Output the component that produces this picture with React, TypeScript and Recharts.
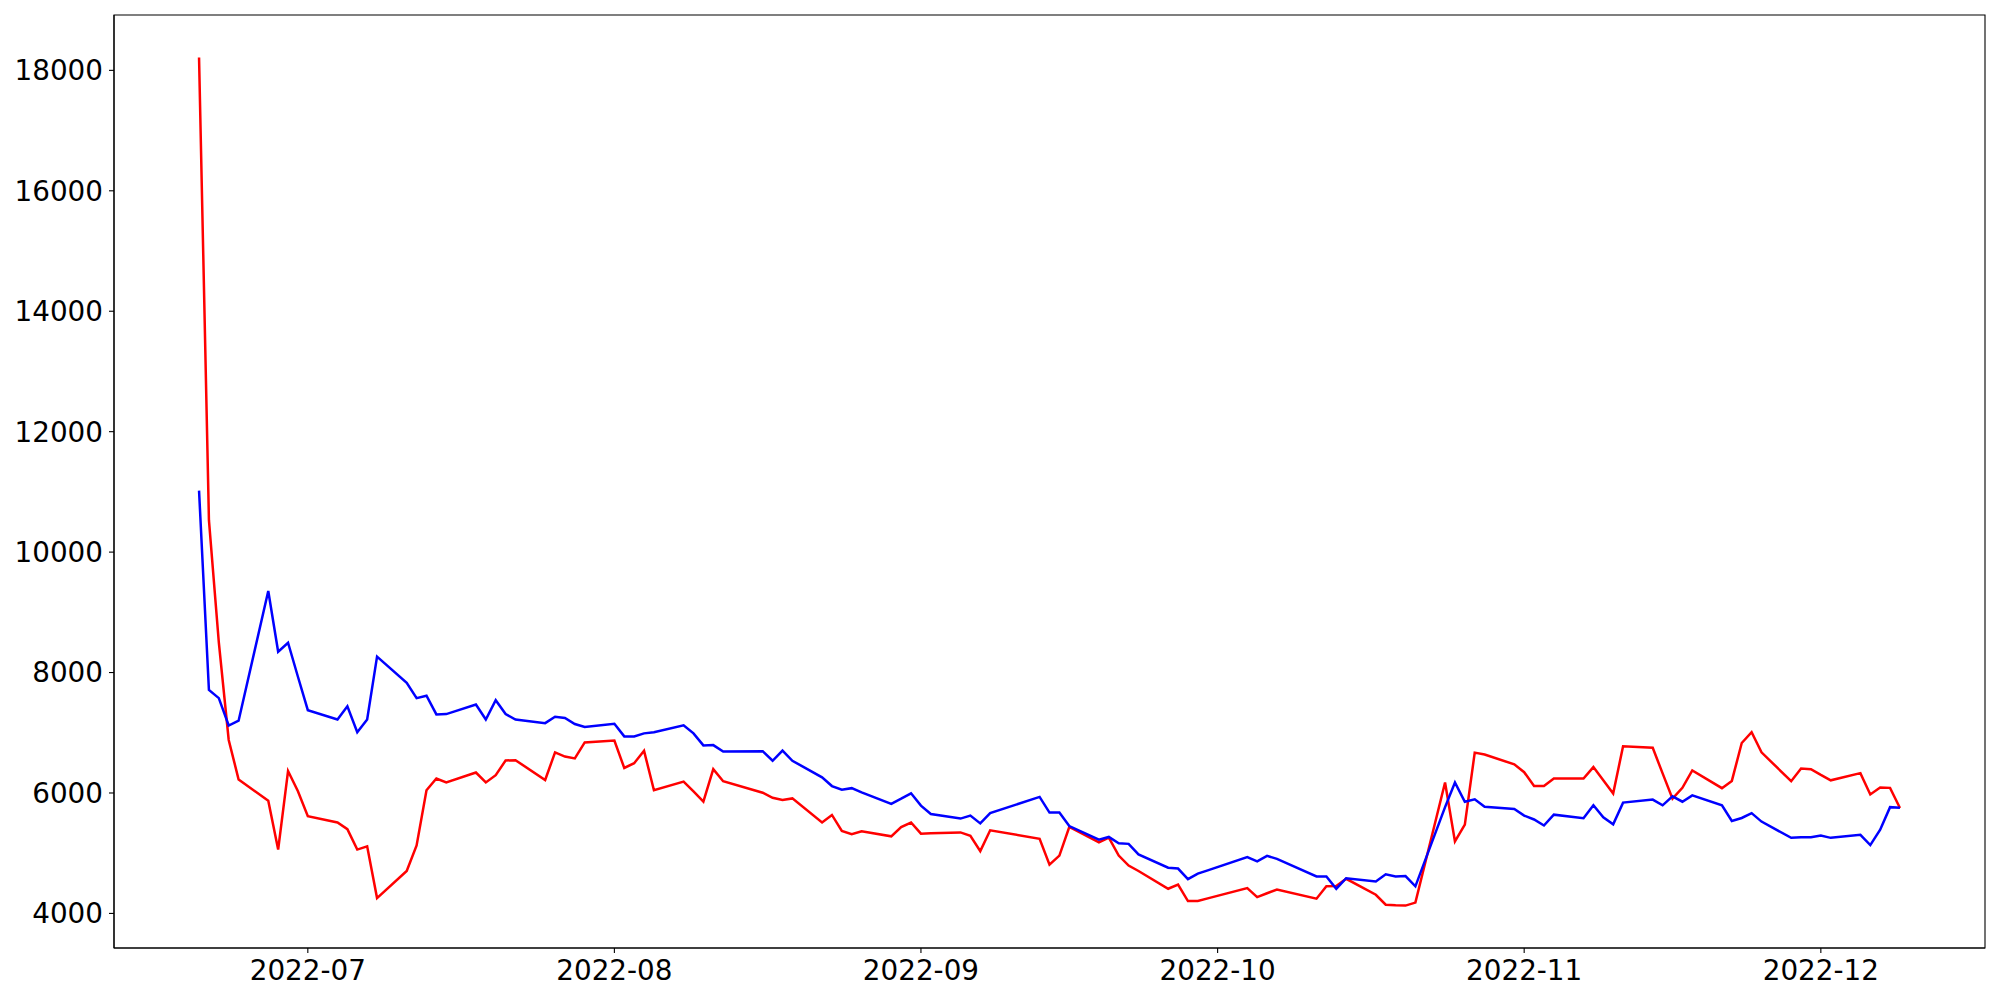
import { LineChart, Line, XAxis, YAxis, ReferenceArea } from 'recharts';

// trading days (holidays skipped)
const dates = [
  '2022-06-20', '2022-06-21', '2022-06-22', '2022-06-23', '2022-06-24',
  '2022-06-27', '2022-06-28', '2022-06-29', '2022-06-30', '2022-07-01',
  '2022-07-04', '2022-07-05', '2022-07-06', '2022-07-07', '2022-07-08',
  '2022-07-11', '2022-07-12', '2022-07-13', '2022-07-14', '2022-07-15',
  '2022-07-18', '2022-07-19', '2022-07-20', '2022-07-21', '2022-07-22',
  '2022-07-25', '2022-07-26', '2022-07-27', '2022-07-28', '2022-07-29',
  '2022-08-01', '2022-08-02', '2022-08-03', '2022-08-04', '2022-08-05',
  '2022-08-08', '2022-08-09', '2022-08-10', '2022-08-11', '2022-08-12',
  '2022-08-16', '2022-08-17', '2022-08-18', '2022-08-19',
  '2022-08-22', '2022-08-23', '2022-08-24', '2022-08-25', '2022-08-26',
  '2022-08-29', '2022-08-30', '2022-08-31', '2022-09-01', '2022-09-02',
  '2022-09-05', '2022-09-06', '2022-09-07', '2022-09-08',
  '2022-09-13', '2022-09-14', '2022-09-15', '2022-09-16',
  '2022-09-19', '2022-09-20', '2022-09-21', '2022-09-22', '2022-09-23',
  '2022-09-26', '2022-09-27', '2022-09-28', '2022-09-29', '2022-09-30',
  '2022-10-04', '2022-10-05', '2022-10-06', '2022-10-07',
  '2022-10-11', '2022-10-12', '2022-10-13', '2022-10-14',
  '2022-10-17', '2022-10-18', '2022-10-19', '2022-10-20', '2022-10-21',
  '2022-10-24', '2022-10-25', '2022-10-26', '2022-10-27', '2022-10-28',
  '2022-10-31', '2022-11-01', '2022-11-02', '2022-11-03', '2022-11-04',
  '2022-11-07', '2022-11-08', '2022-11-09', '2022-11-10', '2022-11-11',
  '2022-11-14', '2022-11-15', '2022-11-16', '2022-11-17', '2022-11-18',
  '2022-11-21', '2022-11-22', '2022-11-23', '2022-11-24', '2022-11-25',
  '2022-11-28', '2022-11-29', '2022-11-30', '2022-12-01', '2022-12-02',
  '2022-12-05', '2022-12-06', '2022-12-07', '2022-12-08', '2022-12-09',
];

const redValues = [
  18215, 10530, 8500, 6880, 6225,
  5870, 5060, 6365, 6030, 5615,
  5510, 5400, 5060, 5115, 4255,
  4705, 5130, 6045, 6240, 6175,
  6340, 6175, 6295, 6540, 6545,
  6215, 6675, 6605, 6575, 6840,
  6870, 6415, 6495, 6700, 6045,
  6190, 6025, 5855, 6395, 6195,
  6005, 5920, 5885, 5910,
  5510, 5635, 5370, 5315, 5365,
  5280, 5435, 5510, 5325, 5330,
  5345, 5290, 5035, 5380,
  5240, 4810, 4960, 5435,
  5180, 5260, 4960, 4795, 4705,
  4410, 4480, 4205, 4205, 4250,
  4420, 4270, 4335, 4395,
  4245, 4450, 4455, 4575,
  4310, 4145, 4135, 4130, 4180,
  6175, 5195, 5475, 6670, 6640,
  6475, 6345, 6115, 6115, 6240,
  6240, 6430, 6210, 5990, 6775,
  6750, 6325, 5905, 6085, 6375,
  6080, 6200, 6830, 7010, 6675,
  6195, 6405, 6395, 6300, 6210,
  6330, 5975, 6090, 6085, 5750,
];

const blueValues = [
  11020, 7710, 7575, 7120, 7200,
  9355, 8345, 8495, 7930, 7375,
  7220, 7440, 7010, 7220, 8265,
  7830, 7575, 7615, 7305, 7310,
  7470, 7220, 7540, 7310, 7220,
  7160, 7265, 7245, 7145, 7095,
  7150, 6940, 6940, 6990, 7010,
  7125, 6990, 6790, 6795, 6690,
  6695, 6535, 6705, 6535,
  6260, 6115, 6055, 6080, 6010,
  5820, 5905, 5995, 5790, 5650,
  5575, 5625, 5495, 5665,
  5935, 5675, 5675, 5450,
  5225, 5270, 5165, 5155, 4980,
  4760, 4745, 4570, 4660, 4715,
  4935, 4865, 4955, 4905,
  4615, 4615, 4410, 4585,
  4530, 4650, 4615, 4620, 4450,
  5765, 6175, 5855, 5895, 5770,
  5735, 5625, 5560, 5460, 5640,
  5580, 5795, 5595, 5480, 5840,
  5890, 5795, 5945, 5855, 5960,
  5795, 5535, 5585, 5665, 5525,
  5255, 5265, 5265, 5295, 5255,
  5305, 5135, 5390, 5765, 5755,
];

const monthTicks = ['2022-07-01', '2022-08-01', '2022-09-01', '2022-10-01', '2022-11-01', '2022-12-01'];
const yTicks = [4000, 6000, 8000, 10000, 12000, 14000, 16000, 18000];

const FONT = '"DejaVu Sans", sans-serif';

const data = dates.map((d, i) => ({ t: Date.parse(d), red: redValues[i], blue: blueValues[i] }));

// matplotlib style 5% margins
const tMin = data[0].t;
const tMax = data[data.length - 1].t;
const tPad = (tMax - tMin) * 0.05;
const xDomain = [tMin - tPad, tMax + tPad];

const allVals = [...redValues, ...blueValues];
const vMin = Math.min(...allVals);
const vMax = Math.max(...allVals);
const vPad = (vMax - vMin) * 0.05;
const yDomain = [vMin - vPad, vMax + vPad];

const tickStyle = { fill: '#000', fontSize: 27.8, fontFamily: FONT };
const lineStyle = { stroke: '#000', strokeWidth: 1.1 };

export default function App() {
  return (
    <div style={{ width: 1984, height: 984, fontFamily: FONT }}>
      <LineChart width={1984} height={984} data={data} margin={{ top: 7, right: 7, left: 0, bottom: 0 }}>
        <XAxis
          dataKey="t"
          type="number"
          domain={xDomain}
          ticks={monthTicks.map((m) => Date.parse(m))}
          tickFormatter={(t: number) => new Date(t).toISOString().slice(0, 7)}
          tick={tickStyle}
          tickLine={lineStyle}
          axisLine={lineStyle}
          tickSize={5}
          tickMargin={7}
          height={44}
          interval={0}
        />
        <YAxis
          type="number"
          domain={yDomain}
          ticks={yTicks}
          tick={tickStyle}
          tickLine={lineStyle}
          axisLine={lineStyle}
          tickSize={5}
          tickMargin={6}
          width={106}
          interval={0}
        />
        {/* frame around the plot area */}
        <ReferenceArea
          x1={xDomain[0]}
          x2={xDomain[1]}
          y1={yDomain[0]}
          y2={yDomain[1]}
          fill="none"
          fillOpacity={0}
          stroke="#000"
          strokeWidth={1.1}
          ifOverflow="visible"
        />
        <Line type="linear" dataKey="red" stroke="#ff0000" strokeWidth={2.5} dot={false} isAnimationActive={false} />
        <Line type="linear" dataKey="blue" stroke="#0000ff" strokeWidth={2.5} dot={false} isAnimationActive={false} />
      </LineChart>
    </div>
  );
}
